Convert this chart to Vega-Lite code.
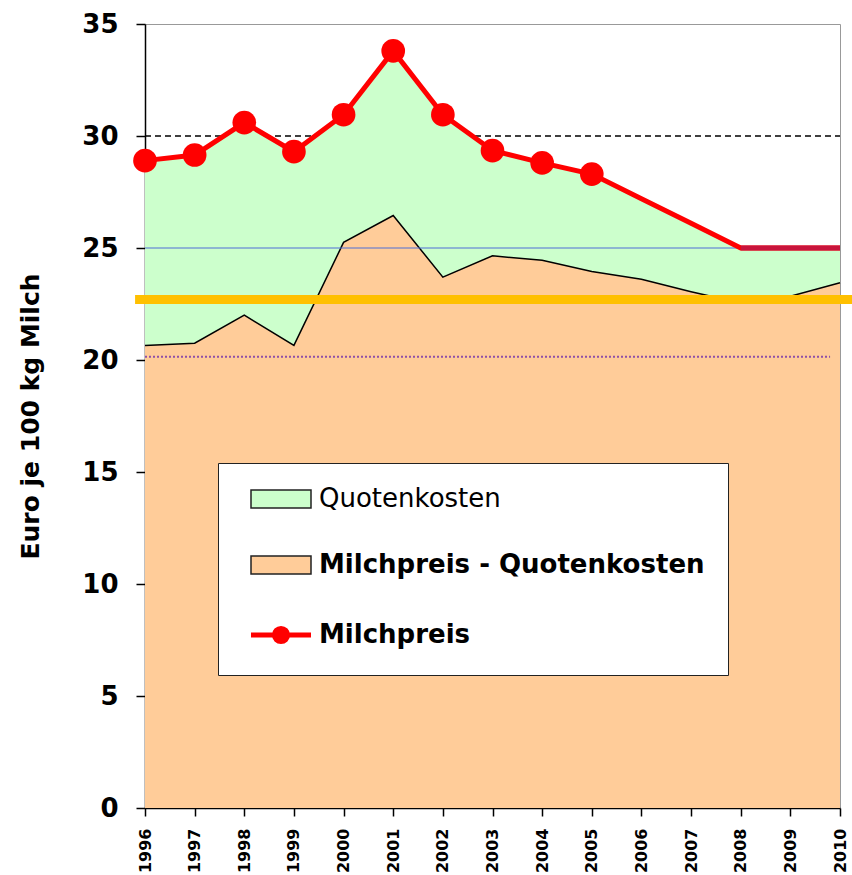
{
  "$schema": "https://vega.github.io/schema/vega-lite/v6.json",
  "width": 695,
  "height": 784,
  "autosize": {"type": "none"},
  "padding": {"left": 145, "top": 24, "right": 12, "bottom": 67},
  "background": "white",
  "config": {
    "view": {"stroke": "#999999", "strokeWidth": 1},
    "axis": {"zindex": 1, "grid": false, "domainColor": "#000000", "tickColor": "#000000", "labelColor": "#000000", "titleColor": "#000000", "labelFont": "DejaVu Sans", "titleFont": "DejaVu Sans", "labelFontWeight": "bold", "titleFontWeight": "bold", "domainWidth": 1.5, "tickWidth": 1.5},
    "axisX": {"labelAngle": -90, "labelFontSize": 16, "tickSize": 8, "labelPadding": 12, "labelFlush": false, "labelOverlap": false, "labelBound": false},
    "axisY": {"labelFontSize": 26, "tickSize": 9, "labelPadding": 18, "titleFontSize": 25, "titlePadding": 38, "labelFlush": false, "labelOverlap": false}
  },
  "datasets": {
    "milch": [
      {"jahr": 1996, "milchpreis": 28.9, "nach_quote": 20.65, "art": "Ist"},
      {"jahr": 1997, "milchpreis": 29.15, "nach_quote": 20.75, "art": "Ist"},
      {"jahr": 1998, "milchpreis": 30.6, "nach_quote": 22.0, "art": "Ist"},
      {"jahr": 1999, "milchpreis": 29.3, "nach_quote": 20.65, "art": "Ist"},
      {"jahr": 2000, "milchpreis": 30.95, "nach_quote": 25.25, "art": "Ist"},
      {"jahr": 2001, "milchpreis": 33.8, "nach_quote": 26.45, "art": "Ist"},
      {"jahr": 2002, "milchpreis": 30.95, "nach_quote": 23.7, "art": "Ist"},
      {"jahr": 2003, "milchpreis": 29.35, "nach_quote": 24.65, "art": "Ist"},
      {"jahr": 2004, "milchpreis": 28.8, "nach_quote": 24.45, "art": "Ist"},
      {"jahr": 2005, "milchpreis": 28.3, "nach_quote": 23.95, "art": "Ist"},
      {"jahr": 2006, "milchpreis": 27.2, "nach_quote": 23.6, "art": "Prognose"},
      {"jahr": 2007, "milchpreis": 26.1, "nach_quote": 23.05, "art": "Prognose"},
      {"jahr": 2008, "milchpreis": 25.0, "nach_quote": 22.55, "art": "Prognose"},
      {"jahr": 2009, "milchpreis": 25.0, "nach_quote": 22.85, "art": "Prognose"},
      {"jahr": 2010, "milchpreis": 25.0, "nach_quote": 23.45, "art": "Prognose"}
    ],
    "linien": [
      {"linie": "30", "wert": 30},
      {"linie": "25", "wert": 25},
      {"linie": "gelb", "wert": 22.7},
      {"linie": "lila", "wert": 20.15}
    ]
  },
  "layer": [
    {
      "data": {"name": "linien"},
      "transform": [{"filter": "datum.linie === '30'"}],
      "mark": {"type": "rule", "color": "#000000", "strokeWidth": 1.5, "strokeDash": [6, 4]},
      "encoding": {
        "y": {"field": "wert", "type": "quantitative", "scale": {"domain": [0, 35], "nice": false, "zero": false}, "title": "Euro je 100 kg Milch"},
        "x": {"datum": 1996, "type": "quantitative", "scale": {"domain": [1996, 2010], "nice": false, "zero": false}, "title": null},
        "x2": {"datum": 2010}
      }
    },
    {
      "data": {"name": "milch"},
      "mark": {"type": "area", "opacity": 1, "fillOpacity": 1},
      "encoding": {
        "x": {"field": "jahr", "type": "quantitative", "scale": {"domain": [1996, 2010], "nice": false, "zero": false}, "title": null, "axis": {"values": [1996, 1997, 1998, 1999, 2000, 2001, 2002, 2003, 2004, 2005, 2006, 2007, 2008, 2009, 2010], "format": "d"}},
        "y": {"field": "nach_quote", "type": "quantitative", "scale": {"domain": [0, 35], "nice": false, "zero": false}, "title": "Euro je 100 kg Milch", "axis": {"values": [0, 5, 10, 15, 20, 25, 30, 35]}},
        "y2": {"datum": 0},
        "color": {
          "datum": "Milchpreis - Quotenkosten", "type": "nominal",
          "scale": {"domain": ["Quotenkosten", "Milchpreis - Quotenkosten", "Milchpreis"], "range": ["#CCFFCC", "#FFCC99", "#FF0000"]},
          "legend": {
            "orient": "none", "legendX": 73, "legendY": 439, "title": null,
            "padding": 23, "fillColor": "#FFFFFF", "strokeColor": "#222222",
            "labelFont": "DejaVu Sans", "labelFontSize": 26, "labelColor": "#000000", "labelLimit": 600, "labelOffset": 52,
            "labelFontWeight": {"expr": "datum.label === 'Quotenkosten' ? 'normal' : 'bold'"},
            "rowPadding": 40, "symbolSize": 3600, "symbolOpacity": 1,
            "symbolType": {"expr": "datum.value === 'Milchpreis' ? 'M-0.1,0H1.9M1.12,0A0.22,0.22,0,1,1,0.68,0A0.22,0.22,0,1,1,1.12,0Z' : 'M-0.1,-0.3H1.9V0.3H-0.1Z'"},
            "symbolStrokeColor": {"expr": "datum.value === 'Milchpreis' ? '#FF0000' : '#222222'"},
            "symbolStrokeWidth": {"expr": "datum.value === 'Milchpreis' ? 5 : 1.5"}
          }
        }
      }
    },
    {
      "data": {"name": "milch"},
      "mark": {"type": "area", "color": "#CCFFCC", "opacity": 1, "fillOpacity": 1},
      "encoding": {
        "x": {"field": "jahr", "type": "quantitative", "scale": {"domain": [1996, 2010], "nice": false, "zero": false}, "title": null},
        "y": {"field": "milchpreis", "type": "quantitative", "scale": {"domain": [0, 35], "nice": false, "zero": false}, "title": "Euro je 100 kg Milch"},
        "y2": {"field": "nach_quote"}
      }
    },
    {
      "data": {"name": "milch"},
      "mark": {"type": "line", "color": "#000000", "strokeWidth": 1.5},
      "encoding": {
        "x": {"field": "jahr", "type": "quantitative", "scale": {"domain": [1996, 2010], "nice": false, "zero": false}, "title": null},
        "y": {"field": "nach_quote", "type": "quantitative", "scale": {"domain": [0, 35], "nice": false, "zero": false}, "title": "Euro je 100 kg Milch"}
      }
    },
    {
      "data": {"name": "linien"},
      "transform": [{"filter": "datum.linie === '25'"}],
      "mark": {"type": "rule", "color": "#4F6FD6", "strokeWidth": 1.2},
      "encoding": {
        "y": {"field": "wert", "type": "quantitative", "scale": {"domain": [0, 35], "nice": false, "zero": false}, "title": "Euro je 100 kg Milch"},
        "x": {"datum": 1996, "type": "quantitative", "scale": {"domain": [1996, 2010], "nice": false, "zero": false}, "title": null},
        "x2": {"datum": 2010}
      }
    },
    {
      "data": {"name": "linien"},
      "transform": [{"filter": "datum.linie === 'lila'"}],
      "mark": {"type": "rule", "color": "#9050A8", "strokeWidth": 2, "strokeDash": [2, 2]},
      "encoding": {
        "y": {"field": "wert", "type": "quantitative", "scale": {"domain": [0, 35], "nice": false, "zero": false}, "title": "Euro je 100 kg Milch"},
        "x": {"datum": 1996, "type": "quantitative", "scale": {"domain": [1996, 2010], "nice": false, "zero": false}, "title": null},
        "x2": {"datum": 2009.8}
      }
    },
    {
      "data": {"name": "linien"},
      "transform": [{"filter": "datum.linie === 'gelb'"}],
      "mark": {"type": "rule", "color": "#FFC000", "strokeWidth": 9},
      "encoding": {
        "y": {"field": "wert", "type": "quantitative", "scale": {"domain": [0, 35], "nice": false, "zero": false}, "title": "Euro je 100 kg Milch"},
        "x": {"datum": 1995.8, "type": "quantitative", "scale": {"domain": [1996, 2010], "nice": false, "zero": false}, "title": null},
        "x2": {"datum": 2010.3}
      }
    },
    {
      "data": {"name": "milch"},
      "mark": {"type": "line", "color": "#FF0000", "strokeWidth": 5},
      "encoding": {
        "x": {"field": "jahr", "type": "quantitative", "scale": {"domain": [1996, 2010], "nice": false, "zero": false}, "title": null},
        "y": {"field": "milchpreis", "type": "quantitative", "scale": {"domain": [0, 35], "nice": false, "zero": false}, "title": "Euro je 100 kg Milch"}
      }
    },
    {
      "data": {"name": "milch"},
      "transform": [{"filter": "datum.jahr >= 2008"}],
      "mark": {"type": "line", "color": "#C8143C", "strokeWidth": 5},
      "encoding": {
        "x": {"field": "jahr", "type": "quantitative", "scale": {"domain": [1996, 2010], "nice": false, "zero": false}, "title": null},
        "y": {"field": "milchpreis", "type": "quantitative", "scale": {"domain": [0, 35], "nice": false, "zero": false}, "title": "Euro je 100 kg Milch"}
      }
    },
    {
      "data": {"name": "milch"},
      "transform": [{"filter": "datum.art === 'Ist'"}],
      "mark": {"type": "circle", "color": "#FF0000", "size": 560, "opacity": 1},
      "encoding": {
        "x": {"field": "jahr", "type": "quantitative", "scale": {"domain": [1996, 2010], "nice": false, "zero": false}, "title": null},
        "y": {"field": "milchpreis", "type": "quantitative", "scale": {"domain": [0, 35], "nice": false, "zero": false}, "title": "Euro je 100 kg Milch"}
      }
    },
    {
      "mark": {"type": "rule", "color": "#444444", "strokeWidth": 1.5},
      "encoding": {
        "x": {"datum": 2010, "type": "quantitative", "scale": {"domain": [1996, 2010], "nice": false, "zero": false}, "title": null},
        "y": {"datum": 0, "type": "quantitative", "scale": {"domain": [0, 35], "nice": false, "zero": false}, "title": "Euro je 100 kg Milch"},
        "y2": {"datum": 25}
      }
    },
    {
      "mark": {"type": "rule", "color": "#C04050", "strokeWidth": 1.5},
      "encoding": {
        "x": {"datum": 2005.44, "type": "quantitative", "scale": {"domain": [1996, 2010], "nice": false, "zero": false}, "title": null},
        "y": {"datum": 0, "type": "quantitative", "scale": {"domain": [0, 35], "nice": false, "zero": false}, "title": "Euro je 100 kg Milch"},
        "y2": {"datum": -3.2}
      }
    }
  ]
}
